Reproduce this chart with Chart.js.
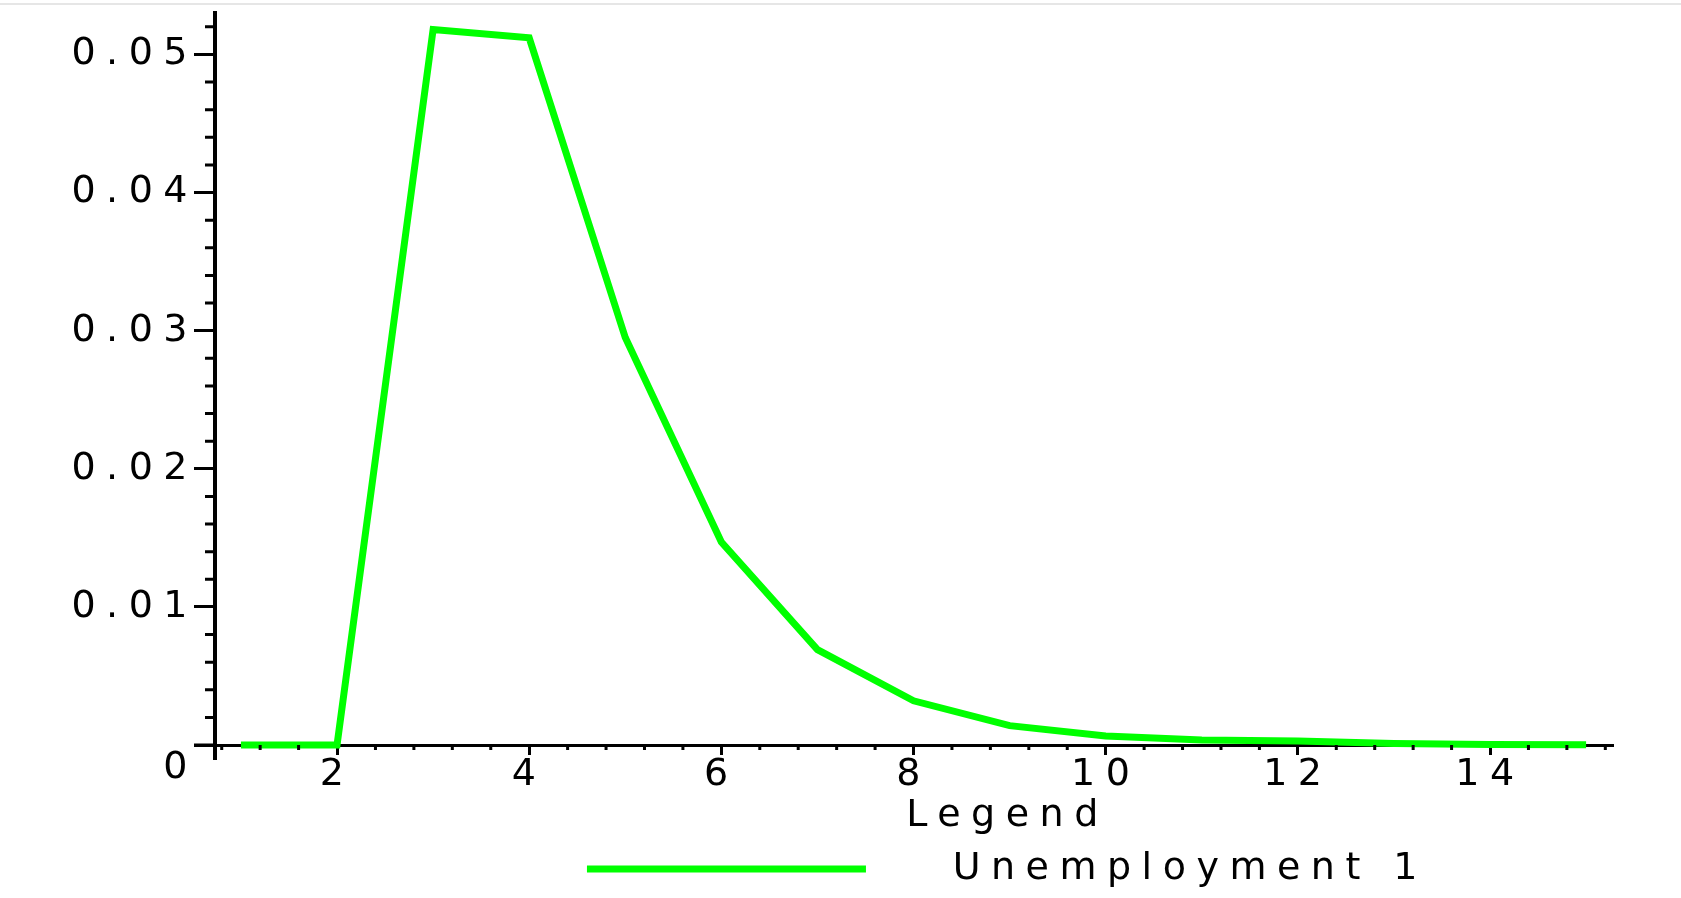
<!DOCTYPE html>
<html>
<head>
<meta charset="utf-8">
<script src="https://cdn.jsdelivr.net/npm/chart.js@4"></script>
<style>
  body { margin: 0; background: #fff; }
  #wrap { position: relative; width: 1681px; height: 898px; }
  #edge { position: absolute; left: 0; top: 3px; width: 1681px; height: 2px; background: #e6e6e6; }
  canvas { display: block; }
</style>
</head>
<body>
<div id="wrap">
  <canvas id="curveChart" width="1681" height="898"></canvas>
  <div id="edge"></div>
</div>
<script>
// values, one point per integer x
const xValues = [1, 2, 3, 4, 5, 6, 7, 8, 9, 10, 11, 12, 13, 14, 15];
const unemployment = [0, 0, 0.0518, 0.0512, 0.0295, 0.0147, 0.0069, 0.0032,
  0.0014, 0.00065, 0.00036, 0.00029, 0.0001, 0.00004, 0.00002];
const seriesName = 'Unemployment 1';
const legendTitle = 'Legend';

const green = '#00ff00';
const fontFamily = "'DejaVu Sans', sans-serif";
const fontSize = 38;
const spacing = '10.5px';
const legendShift = 201;

const ctxEl = document.getElementById('curveChart');

// wide, spaced lettering like the old bitmap font
const letterSpacing = {
  id: 'letterSpacing',
  beforeLayout(chart) { chart.ctx.letterSpacing = spacing; },
  beforeDraw(chart) { chart.ctx.letterSpacing = spacing; },
  afterLayout(chart) {
    chart.legend.left += legendShift;
    chart.legend.right += legendShift;
  },
};

// minor tick marks and the small axis overhangs
const minorTicks = {
  id: 'minorTicks',
  afterDraw(chart) {
    const { ctx } = chart;
    const x = chart.scales.x;
    const y = chart.scales.y;
    ctx.save();
    ctx.strokeStyle = '#000';
    ctx.lineWidth = 3;
    ctx.beginPath();
    for (let i = 1; i * 0.002 < y.max; i++) {
      if (i % 5 === 0) continue;
      const py = y.getPixelForValue(i * 0.002);
      ctx.moveTo(y.right - 10, py);
      ctx.lineTo(y.right, py);
    }
    for (let i = 2; i * 0.4 < x.max; i++) {
      if (i % 5 === 0) continue;
      const px = x.getPixelForValue(i * 0.4);
      ctx.moveTo(px, x.top);
      ctx.lineTo(px, x.top + 5);
    }
    ctx.moveTo(x.left - 21, x.top);
    ctx.lineTo(x.left, x.top);
    ctx.stroke();
    ctx.lineWidth = 4;
    ctx.beginPath();
    ctx.moveTo(y.right, y.bottom);
    ctx.lineTo(y.right, y.bottom + 15);
    ctx.stroke();
    ctx.restore();
  },
};

Chart.defaults.color = '#000';
Chart.defaults.font.family = fontFamily;
Chart.defaults.font.size = fontSize;

new Chart(ctxEl, {
  type: 'line',
  data: {
    datasets: [
      {
        label: seriesName,
        data: xValues.map((v, i) => ({ x: v, y: unemployment[i] })),
        borderColor: green,
        backgroundColor: green,
        borderWidth: 7,
        pointRadius: 0,
        tension: 0,
        clip: false,
      },
    ],
  },
  options: {
    responsive: false,
    animation: false,
    layout: { padding: { top: 13, right: 68, bottom: 0, left: 0 } },
    scales: {
      x: {
        type: 'linear',
        min: 0.73,
        max: 15.28,
        z: 1,
        border: { color: '#000', width: 3 },
        grid: { drawOnChartArea: false, tickLength: 10, tickWidth: 3, tickColor: '#000' },
        ticks: { stepSize: 2, includeBounds: false, padding: -3, maxRotation: 0 },
        afterFit: (scale) => {
          scale.height = 49.4;
          scale.paddingLeft = 0;
          scale.paddingRight = 0;
        },
      },
      y: {
        min: 0,
        max: 0.053,
        z: 1,
        border: { color: '#000', width: 4 },
        grid: { drawOnChartArea: false, tickLength: 21, tickWidth: 3, tickColor: '#000' },
        ticks: {
          stepSize: 0.01,
          includeBounds: false,
          padding: -4,
          // the zero label sits below the x axis in the original
          callback: (v) => (v === 0 ? ['', '0'] : v.toFixed(2)),
        },
        afterFit: (scale) => {
          scale.width = 215;
          scale.paddingTop = 0;
          scale.paddingBottom = 0;
        },
      },
    },
    plugins: {
      tooltip: { enabled: false },
      legend: {
        position: 'bottom',
        title: { display: true, text: legendTitle, padding: { top: 3, bottom: 0 } },
        labels: {
          boxWidth: 279,
          boxHeight: 7,
          padding: 7,
          generateLabels: (chart) =>
            Chart.defaults.plugins.legend.labels.generateLabels(chart).map((item) => ({
              ...item,
              text: '   ' + item.text,
              lineWidth: 0,
              fillStyle: green,
            })),
        },
      },
    },
  },
  plugins: [letterSpacing, minorTicks],
});
</script>
</body>
</html>
